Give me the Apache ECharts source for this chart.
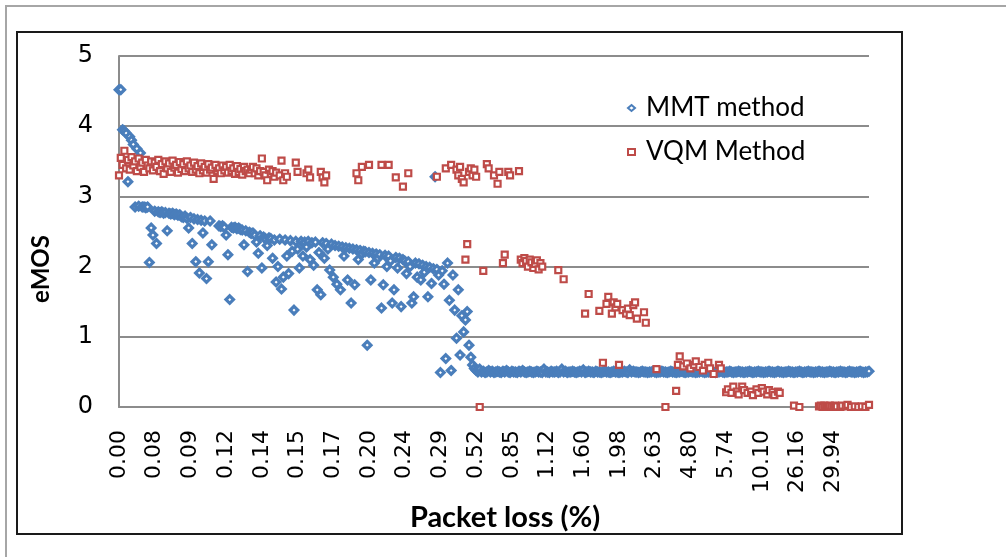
<!DOCTYPE html>
<html><head><meta charset="utf-8">
<script src="https://cdn.jsdelivr.net/npm/echarts@6/dist/echarts.min.js"></script>
<style>html,body{margin:0;padding:0;background:#fff}#c{width:1006px;height:557px}</style>
</head><body><div id="c"></div>
<script>
// x tick labels (packet loss %), one label every 20 categories
const tickLabels = ['0.00','0.08','0.09','0.12','0.14','0.15','0.17','0.20','0.24','0.29','0.52','0.85','1.12','1.60','1.98','2.63','4.80','5.74','10.10','26.16','29.94'];
const labelStep = 20;
const _ = null;
// MMT method (eMOS) per category
const mmt = [
4.52,4.52,3.95,3.93,3.90,3.21,3.85,3.80,3.74,2.85,3.68,2.86,3.62,2.85,2.85,2.84,2.85,2.06,2.55,2.45,
2.79,2.33,2.78,2.77,2.78,2.76,2.77,2.51,2.76,2.75,2.76,2.74,2.75,2.73,2.74,2.71,2.70,2.72,2.69,2.55,
2.70,2.33,2.68,2.07,2.67,1.91,2.66,2.48,2.65,1.83,2.07,2.65,2.31,_,_,_,2.58,2.57,2.58,2.56,
2.45,2.17,1.53,2.56,2.55,2.56,2.54,2.55,2.53,2.52,2.31,2.51,1.93,2.49,2.47,2.48,2.45,2.35,2.19,2.44,
1.98,2.42,2.40,2.30,2.41,2.40,2.12,2.38,1.78,2.00,2.39,1.68,1.85,2.38,2.15,1.90,2.37,2.22,1.38,2.36,
2.25,1.98,2.36,2.15,2.35,2.28,2.36,2.10,2.34,2.02,2.35,1.67,2.20,1.60,2.34,2.12,2.33,2.25,1.95,2.32,
1.85,2.30,1.75,2.29,1.67,2.28,2.15,2.27,1.81,2.26,1.48,2.25,1.74,2.24,2.10,2.23,2.18,2.22,2.21,0.88,
2.20,1.81,2.19,2.05,2.18,2.12,2.17,1.41,1.74,2.16,2.00,2.15,2.08,1.48,1.67,2.13,1.98,2.12,1.43,2.10,
2.08,1.90,2.07,2.00,1.48,1.57,2.05,1.85,2.04,1.81,2.02,1.92,2.00,1.57,1.99,1.76,1.97,3.28,1.96,1.88,
0.49,1.94,1.75,0.69,2.05,1.52,0.52,1.88,1.38,0.98,1.67,0.74,1.30,1.07,1.24,1.36,0.88,0.71,0.60,0.55,
0.52,0.50,0.54,0.50,0.51,0.49,0.50,0.52,0.50,0.51,0.49,0.50,0.51,0.50,0.49,0.51,0.50,0.52,0.50,0.49,
0.51,0.50,0.50,0.49,0.51,0.50,0.52,0.50,0.49,0.50,0.51,0.50,0.49,0.50,0.51,0.50,0.50,0.49,0.54,0.50,
0.50,0.49,0.51,0.50,0.50,0.51,0.49,0.50,0.54,0.50,0.51,0.49,0.50,0.50,0.51,0.50,0.49,0.50,0.51,0.50,
0.53,0.49,0.50,0.51,0.50,0.50,0.49,0.51,0.50,0.50,0.49,0.50,0.51,0.50,0.50,0.49,0.50,0.51,0.50,0.50,
0.49,0.50,0.50,0.51,0.50,0.49,0.53,0.50,0.51,0.50,0.50,0.49,0.50,0.51,0.50,0.50,0.49,0.50,0.50,0.51,
0.50,0.49,0.50,0.50,0.51,0.50,0.50,0.49,0.50,0.51,0.50,0.50,0.49,0.50,0.50,0.51,0.50,0.49,0.50,0.50,
0.51,0.50,0.50,0.49,0.50,0.50,0.51,0.50,0.49,0.50,0.50,0.51,0.50,0.50,0.49,0.50,0.50,0.51,0.50,0.49,
0.50,0.50,0.51,0.50,0.49,0.50,0.50,0.51,0.50,0.50,0.49,0.50,0.50,0.51,0.50,0.49,0.50,0.50,0.51,0.50,
0.50,0.49,0.50,0.50,0.51,0.50,0.50,0.49,0.50,0.51,0.50,0.50,0.49,0.50,0.50,0.51,0.50,0.50,0.49,0.50,
0.50,0.51,0.50,0.49,0.50,0.50,0.51,0.50,0.50,0.49,0.50,0.50,0.51,0.50,0.50,0.49,0.50,0.50,0.51,0.50,
0.50,0.49,0.50,0.50,0.51,0.50,0.50,0.49,0.50,0.51,0.50,0.50,0.49,0.50,0.50,0.51,0.50,0.49,0.50,0.50,0.51
];
// VQM Method (eMOS) per category, null where there is no point
const vqm = [
3.30,3.55,3.45,3.65,3.40,3.52,3.38,3.56,3.44,3.50,3.36,3.54,3.42,3.48,3.35,3.52,3.44,3.40,3.50,3.37,
3.48,3.42,3.52,3.36,3.46,3.32,3.50,3.40,3.47,3.35,3.51,3.41,3.45,3.34,3.49,3.39,3.46,3.36,3.50,3.40,
3.44,3.35,3.48,3.38,3.43,3.33,3.47,3.37,3.42,3.34,3.46,3.38,3.41,3.25,3.45,3.36,3.40,3.33,3.44,3.37,
3.42,3.34,3.45,3.36,3.40,3.32,3.43,3.35,3.39,3.31,3.42,3.36,3.38,3.33,3.38,3.42,3.33,3.40,3.30,3.36,
3.54,3.35,3.30,3.23,3.38,3.32,3.36,3.28,3.34,_,3.30,3.51,3.23,3.33,3.28,_,_,_,_,3.48,
3.35,_,_,_,_,3.33,3.38,3.27,_,_,_,_,_,3.35,3.27,3.20,3.30,_,_,_,
_,_,_,_,_,_,_,_,_,_,_,_,_,3.33,3.23,_,3.42,_,_,_,
3.45,_,_,_,_,_,_,3.45,_,_,_,3.45,_,_,_,3.27,_,_,_,3.14,
_,_,3.33,_,_,_,_,_,_,_,_,_,_,_,_,_,_,_,3.28,_,
_,_,_,3.40,_,_,3.45,_,_,3.38,3.30,3.42,3.25,3.20,2.10,2.32,3.35,3.40,3.30,3.38,
3.28,_,0.00,_,1.94,_,3.46,3.40,_,_,3.30,_,3.18,3.35,_,2.05,2.17,_,3.35,3.30,
_,_,_,_,3.36,2.10,2.05,2.12,2.08,2.00,2.10,2.06,1.98,2.04,2.09,1.96,2.05,2.00,_,_,
_,_,_,_,_,_,1.95,_,_,1.82,_,_,_,_,_,_,_,_,_,_,
_,1.33,_,1.61,_,_,_,_,_,1.37,_,0.63,_,1.47,1.57,_,1.33,1.49,1.42,1.47,
0.60,_,1.38,_,1.33,1.40,1.31,_,1.45,1.49,1.26,_,_,_,1.35,1.20,_,_,_,_,
_,0.54,_,_,_,_,0.00,_,_,_,_,_,0.23,0.60,0.72,_,0.58,_,0.62,_,
0.55,_,0.60,0.65,_,0.57,_,0.52,0.60,_,0.63,0.55,_,0.47,_,_,0.60,0.55,_,_,
0.21,0.25,_,0.20,0.29,_,0.22,0.18,_,0.29,0.24,_,0.20,_,0.22,0.17,_,0.25,0.20,_,
0.27,0.22,_,0.18,0.24,_,0.21,0.17,_,0.22,0.20,_,_,_,_,_,_,_,0.02,_,
_,0.00,_,_,_,_,_,_,_,_,_,_,0.01,0.02,0.00,0.02,0.01,0.00,0.02,0.01,
0.00,0.02,0.01,_,0.00,0.02,_,0.01,0.03,_,0.00,_,0.01,_,0.00,_,0.01,_,0.00,_,0.03
];
const categories = mmt.map(function (v, i) { return String(i); });

const chart = echarts.init(document.getElementById('c'), null, {renderer: 'canvas'});
chart.setOption({
  animation: false,
  backgroundColor: '#fff',
  grid: {left: 119, right: 137, top: 56, bottom: 150, containLabel: false, outerBoundsMode: 'none'},
  legend: {
    orient: 'vertical', left: 622, top: 90, itemWidth: 7, itemHeight: 6, itemGap: 18,
    textStyle: {fontFamily: 'Lato', fontSize: 26, color: '#000', padding: [0, 0, 0, 6]},
    data: ['MMT method', 'VQM Method']
  },
  xAxis: {
    type: 'category', data: categories, boundaryGap: false,
    axisLine: {lineStyle: {color: '#8c8c8c', width: 2}},
    axisTick: {show: false},
    splitLine: {show: false},
    axisLabel: {
      interval: labelStep - 1, rotate: 90, margin: 23,
      fontFamily: 'DejaVu Sans', fontSize: 22, color: '#000',
      formatter: function (v, idx) { const t = tickLabels[idx / labelStep]; return t === undefined ? '' : t; }
    }
  },
  yAxis: {
    type: 'value', min: 0, max: 5, interval: 1,
    axisLine: {show: true, lineStyle: {color: '#8c8c8c', width: 2}},
    axisTick: {show: false},
    splitLine: {lineStyle: {color: '#8c8c8c', width: 2}},
    axisLabel: {margin: 26, fontFamily: 'DejaVu Sans', fontSize: 24, color: '#000'}
  },
  series: [
    {type: 'scatter', name: 'MMT method', data: mmt, symbol: 'diamond', symbolSize: 7.5, z: 2,
     itemStyle: {color: '#fff', borderColor: '#4A7EBB', borderWidth: 3.2, opacity: 1}},
    {type: 'scatter', name: 'VQM Method', data: vqm, symbol: 'rect', symbolSize: 6, z: 3,
     itemStyle: {color: '#fff', borderColor: '#BE4B48', borderWidth: 2.2, opacity: 1}}
  ],
  graphic: [
    {type: 'rect', silent: true, shape: {x: 6, y: 6, width: 1010, height: 560}, style: {fill: null, stroke: '#a6a6a6', lineWidth: 2}},
    {type: 'rect', silent: true, shape: {x: 17, y: 32, width: 885, height: 502}, style: {fill: null, stroke: '#1a1a1a', lineWidth: 2}},
    {type: 'text', silent: true, x: 505, y: 518, style: {text: 'Packet loss (%)', fontFamily: 'Lato', fontWeight: 'bold', fontSize: 29, fill: '#000', align: 'center', verticalAlign: 'middle'}},
    {type: 'text', silent: true, x: 41, y: 269, rotation: Math.PI / 2, style: {text: 'eMOS', fontFamily: 'Lato', fontWeight: 'bold', fontSize: 24, fill: '#000', align: 'center', verticalAlign: 'middle'}}
  ]
});
</script>
</body></html>
